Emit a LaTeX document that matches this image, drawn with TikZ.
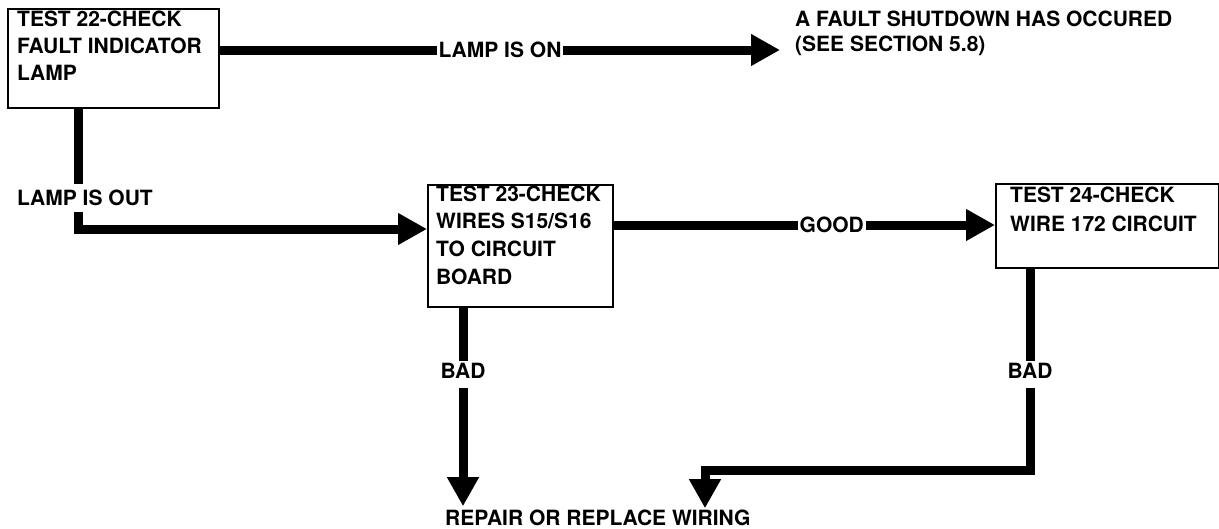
\documentclass[tikz,border=0pt]{standalone}
\usepackage{fontspec}
\setmainfont{TeX Gyre Heros}
\usetikzlibrary{arrows.meta}
\tikzset{
  box/.style={draw=black, line width=2.4pt, rectangle, anchor=north west, inner sep=0pt},
  txt/.style={anchor=base west, inner sep=0pt, font=\fontsize{21}{27}\selectfont\bfseries},
  lbl/.style={inner sep=1.5pt, font=\fontsize{21}{27}\selectfont\bfseries},
  conn/.style={line width=9pt, line cap=butt, line join=miter},
  arrowconn/.style={conn, -{Triangle[length=29pt, width=30pt]}},
}
\begin{document}
\begin{tikzpicture}[x=1pt, y=-1pt]
\fill[white] (0,0) rectangle (1219,528);
\useasboundingbox (0,0) rectangle (1219,528);

% boxes
\node[box, minimum width=211pt, minimum height=99pt] (b1) at (7,8) {};
\node[box, minimum width=185pt, minimum height=122pt] (b2) at (427,184) {};
\node[box, minimum width=223pt, minimum height=84pt] (b3) at (995,183) {};

% box texts
\node[txt] (t1) at (17,26) {\parbox[t]{205pt}{TEST 22-CHECK\\FAULT INDICATOR\\LAMP}};
\node[txt] (t2) at (436,201) {\parbox[t]{175pt}{\baselineskip=27.7pt TEST 23-CHECK\\WIRES S15/S16\\TO CIRCUIT\\BOARD}};
\node[txt] (t3) at (1010,202) {\parbox[t]{205pt}{\baselineskip=29pt TEST 24-CHECK\\WIRE 172 CIRCUIT}};

% free texts
\node[txt] (fault) at (795,26) {\parbox[t]{420pt}{\baselineskip=25pt A FAULT SHUTDOWN HAS OCCURED\\(SEE SECTION 5.8)}};
\node[txt] (repair) at (445,525) {REPAIR OR REPLACE WIRING};

% connector labels
\node[lbl, anchor=west] (lampon) at (437,50) {LAMP IS ON};
\node[lbl, anchor=west] (lampout) at (15.5,197.5) {LAMP IS OUT};
\node[lbl, anchor=west] (good) at (798,225) {GOOD};
\node[lbl] (bad1) at (463,370.5) {BAD};
\node[lbl] (bad2) at (1030,370.5) {BAD};

% bend points
\coordinate (k1) at (78,229);
\coordinate (k3) at (705,470);

% connectors
\draw[conn] (b1.east |- lampon.west) -- (lampon.west);
\draw[arrowconn, shorten >=15pt] (lampon.east) -- (fault.west |- lampon.east);

\draw[conn, shorten >=4pt] (k1 |- b1.south) -- (k1 |- lampout.north);
\draw[arrowconn, shorten <=5pt] (k1 |- lampout.south) -- (k1) -- (b2.west |- k1);

\draw[conn] (b2.east |- good.west) -- (good.west);
\draw[arrowconn] (good.east) -- (b3.west |- good.east);

\draw[conn] (b2.south -| bad1) -- (bad1.north);
\draw[arrowconn, shorten <=8pt, shorten >=3pt] (bad1.south) -- (bad1.south |- repair.north);

\draw[conn] (b3.south -| bad2) -- (bad2.north);
\draw[arrowconn, shorten <=8pt, shorten >=1pt] (bad2.south) -- (bad2.south |- k3) -- (k3) -- (k3 |- repair.north);
\end{tikzpicture}
\end{document}
